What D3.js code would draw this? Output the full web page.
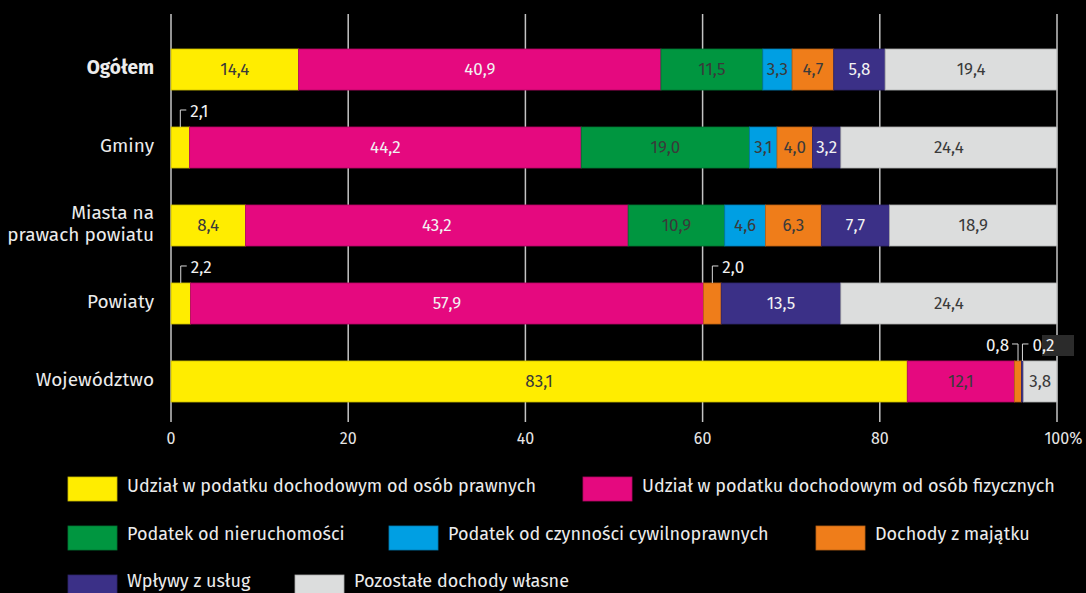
<!DOCTYPE html>
<html>
<head>
<meta charset="utf-8">
<script src="https://cdn.jsdelivr.net/npm/d3@7"></script>
<style>
  html, body { margin: 0; padding: 0; background: #000; }
  svg { display: block; font-family: "Fira Sans", Lato, "Noto Sans", sans-serif; }
</style>
</head>
<body>
<svg id="chart" width="1086" height="593"></svg>
<script>
// kategorie (wiersze)
var categories = ["Ogółem", "Gminy", "Miasta na prawach powiatu", "Powiaty", "Województwo"];
var categoryLines = [["Ogółem"], ["Gminy"], ["Miasta na", "prawach powiatu"], ["Powiaty"], ["Województwo"]];

// serie
var seriesNames = [
  "Udział w podatku dochodowym od osób prawnych",
  "Udział w podatku dochodowym od osób fizycznych",
  "Podatek od nieruchomości",
  "Podatek od czynności cywilnoprawnych",
  "Dochody z majątku",
  "Wpływy z usług",
  "Pozostałe dochody własne"
];
var seriesColors = ["#ffed00", "#e5097f", "#009640", "#009fe3", "#ef7d1a", "#3b3087", "#dcdddd"];

// wartosci (%) - jeden wiersz na kategorie, kolejnosc jak seriesNames
var valOgolem      = [14.4, 40.9, 11.5, 3.3, 4.7, 5.8, 19.4];
var valGminy       = [2.1, 44.2, 19.0, 3.1, 4.0, 3.2, 24.4];
var valMiasta      = [8.4, 43.2, 10.9, 4.6, 6.3, 7.7, 18.9];
var valPowiaty     = [2.2, 57.9, 0, 0, 2.0, 13.5, 24.4];
var valWojewodztwo = [83.1, 12.1, 0, 0, 0.8, 0.2, 3.8];
var values = [valOgolem, valGminy, valMiasta, valPowiaty, valWojewodztwo];

var xTicks = [0, 20, 40, 60, 80, 100];

var svg = d3.select("#chart");
var dark = "#3a3a3a", light = "#f2f2f2";

var x = d3.scaleLinear().domain([0, 100]).range([171, 1057]);
var y = d3.scaleBand().domain(categories).range([49, 402]).paddingInner(0.474).paddingOuter(0);

// siatka
svg.append("g").selectAll("line")
  .data(xTicks).join("line")
    .attr("x1", d => x(d)).attr("x2", d => x(d))
    .attr("y1", 14).attr("y2", 422)
    .attr("stroke", "#c4c4c4").attr("stroke-width", 1.5);

// os x - etykiety
svg.append("g").selectAll("text")
  .data(xTicks).join("text")
    .attr("x", d => x(d))
    .attr("dx", d => d == 100 ? "0.4em" : 0)
    .attr("y", 444)
    .attr("fill", "#e6e6e6")
    .attr("font-size", "16px")
    .style("text-anchor", "middle")
    .text(d => d == 100 ? "100%" : d);

// dane do segmentow
var segs = [];
categories.forEach(function(c, i) {
  var acc = 0;
  values[i].forEach(function(v, j) {
    segs.push({cat: c, s: j, v: v, x0: acc, x1: acc + v});
    acc += v;
  });
});
segs = segs.filter(d => d.v > 0);

svg.append("g").selectAll("rect")
  .data(segs).join("rect")
    .attr("x", d => x(d.x0))
    .attr("y", d => y(d.cat))
    .attr("width", d => x(d.x1) - x(d.x0))
    .attr("height", y.bandwidth())
    .attr("fill", d => seriesColors[d.s])
    .attr("stroke", d => d3.color(seriesColors[d.s]).darker(0.7))
    .attr("stroke-width", 0.8);

function fmt(v) { return v.toFixed(1).replace(".", ","); }
function labelColor(d) {
  if (d.s == 5) return light;
  if (d.s == 1 && d.cat != "Województwo") return light;
  return dark;
}

// etykiety wewnatrz
svg.append("g").selectAll("text")
  .data(segs.filter(d => d.v >= 3)).join("text")
    .attr("x", d => x((d.x0 + d.x1) / 2))
    .attr("y", d => y(d.cat) + y.bandwidth() / 2)
    .attr("dy", "0.3em")
    .attr("fill", labelColor)
    .attr("font-size", "17px")
    .style("text-anchor", "middle")
    .text(d => fmt(d.v));

// etykiety zewnetrzne (male wartosci) z odnosnikiem
var small = segs.filter(d => d.v < 3);
var g = svg.append("g");
small.forEach(function(d) {
  var cx = x((d.x0 + d.x1) / 2);
  var top = y(d.cat);
  var ly = top - 17;
  var left = (d.cat == "Województwo" && d.s == 4);
  var hx = left ? cx - 6 : cx + 6;
  g.append("path")
    .attr("d", "M" + cx + "," + top + "V" + ly + "H" + hx)
    .attr("fill", "none").attr("stroke", "#d8d8d8").attr("stroke-width", 1);
  if (d.cat == "Województwo" && d.s == 5) {
    g.append("rect").attr("x", 1042).attr("y", 335).attr("width", 32).attr("height", 21).attr("fill", "#2b2b2b");
  }
  g.append("text")
    .attr("x", left ? hx - 3 : hx + 4)
    .attr("y", ly)
    .attr("dy", "0.42em")
    .attr("fill", light)
    .attr("font-size", "17px")
    .style("text-anchor", left ? "end" : "start")
    .text(fmt(d.v));
});

// etykiety kategorii
svg.append("g").selectAll("text")
  .data(categories).join("text")
    .attr("x", 154)
    .attr("y", (d, i) => y(d) + y.bandwidth() / 2 - (categoryLines[i].length - 1) * 11.2)
    .attr("fill", "#ececec")
    .attr("font-size", "19px")
    .attr("font-weight", (d, i) => i == 0 ? "bold" : "normal")
    .style("text-anchor", "end")
    .each(function(d, i) {
      var t = d3.select(this);
      categoryLines[i].forEach(function(line, k) {
        t.append("tspan").attr("x", 154).attr("dy", k == 0 ? "0.25em" : "22.4px").text(line);
      });
    });

// legenda
var legendRows = [[0, 1], [2, 3, 4], [5, 6]];
var legendX = [[68, 583], [68, 389, 816], [68, 295]];
var legendY = [477, 526, 575];
var legendBase = [492, 540, 587];
var lg = svg.append("g");
legendRows.forEach(function(row, r) {
  row.forEach(function(s, k) {
    lg.append("rect")
      .attr("x", legendX[r][k]).attr("y", legendY[r])
      .attr("width", 49).attr("height", 24)
      .attr("fill", seriesColors[s])
      .attr("stroke", d3.color(seriesColors[s]).darker(0.7)).attr("stroke-width", 0.8);
    lg.append("text")
      .attr("x", legendX[r][k] + 59).attr("y", legendBase[r])
      .attr("fill", "#ececec")
      .attr("font-size", "18px")
      .text(seriesNames[s]);
  });
});
</script>
</body>
</html>
